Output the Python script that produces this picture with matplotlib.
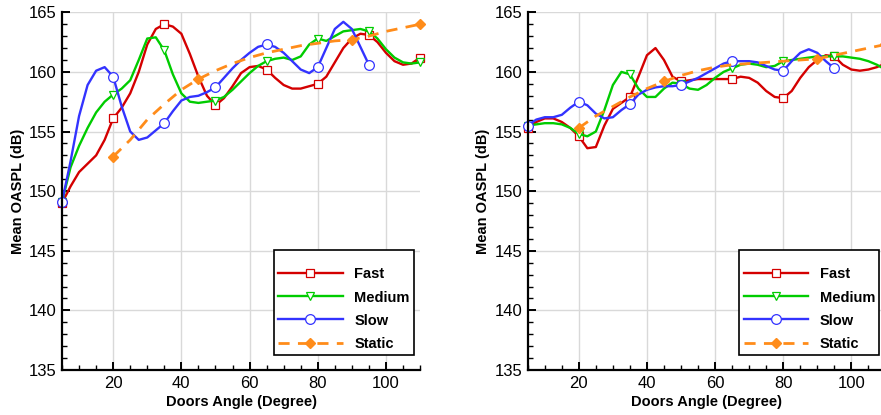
import numpy as np
import matplotlib
matplotlib.use("Agg")
import matplotlib.pyplot as plt
from matplotlib.ticker import MultipleLocator

plt.rcParams['font.family'] = ['Liberation Sans', 'DejaVu Sans']

# door angle grid (deg) for the moving-door runs, and for the static run
angle = [5, 7.5, 10, 12.5, 15, 17.5, 20, 22.5, 25, 27.5, 30, 32.5, 35, 37.5,
         40, 42.5, 45, 47.5, 50, 52.5, 55, 57.5, 60, 62.5, 65, 67.5, 70, 72.5,
         75, 77.5, 80, 82.5, 85, 87.5, 90, 92.5, 95, 97.5, 100, 102.5, 105,
         107.5, 110]
angle_static = [20, 25, 30, 35, 40, 45, 50, 55, 60, 65, 70, 75, 80, 85, 90,
                95, 100, 105, 110]
static_marks = [0, 5, 14, 18]

# left panel
fast_l = [149.0, 150.4, 151.6, 152.3, 153.0, 154.3, 156.1, 157.0, 158.2, 160.0,
          162.3, 163.6, 164.0, 163.8, 163.2, 161.5, 159.6, 158.0, 157.2, 157.8,
          158.8, 159.9, 160.4, 160.5, 160.2, 159.5, 158.9, 158.6, 158.6, 158.8,
          159.0, 159.6, 160.8, 162.0, 162.8, 163.2, 163.1, 162.5, 161.6, 160.9,
          160.6, 160.7, 161.2]
medium_l = [149.1, 152.0, 153.8, 155.3, 156.6, 157.5, 158.1, 158.6, 159.3, 161.0,
            162.8, 162.9, 161.8, 159.8, 158.2, 157.5, 157.4, 157.5, 157.6, 157.9,
            158.5, 159.2, 159.9, 160.5, 160.9, 161.1, 161.2, 161.0, 161.3, 162.3,
            162.8, 162.6, 163.0, 163.4, 163.5, 163.6, 163.4, 162.8, 161.9, 161.2,
            160.8, 160.7, 160.8]
slow_l = [149.1, 152.5, 156.3, 158.9, 160.1, 160.4, 159.6, 157.1, 155.0, 154.3,
          154.5, 155.1, 155.7, 156.7, 157.6, 157.9, 158.0, 158.3, 158.7, 159.5,
          160.3, 161.0, 161.6, 162.1, 162.3, 162.1, 161.6, 160.9, 160.2, 159.9,
          160.4, 162.0, 163.6, 164.2, 163.6, 162.1, 160.6]
static_l = [152.9, 154.3, 156.0, 157.3, 158.5, 159.4, 160.1, 160.7, 161.2, 161.6,
            161.9, 162.2, 162.4, 162.6, 162.7, 163.0, 163.4, 163.7, 164.0]

# right panel
fast_r = [155.3, 155.8, 156.1, 156.1, 155.8, 155.3, 154.6, 153.6, 153.7, 155.5,
          156.9, 157.4, 157.9, 159.6, 161.4, 162.0, 161.0, 159.6, 159.2, 159.3,
          159.4, 159.4, 159.4, 159.4, 159.4, 159.6, 159.5, 159.1, 158.4, 157.9,
          157.8, 158.4, 159.5, 160.4, 161.0, 161.4, 161.3, 160.6, 160.2, 160.1,
          160.2, 160.4, 160.7]
medium_r = [155.5, 155.6, 155.7, 155.7, 155.6, 155.3, 154.8, 154.6, 155.0, 156.8,
            158.9, 160.0, 159.8, 158.6, 157.9, 157.9, 158.6, 159.1, 159.0, 158.6,
            158.5, 158.9, 159.5, 160.0, 160.3, 160.6, 160.7, 160.6, 160.4, 160.5,
            160.9, 161.0, 161.1, 161.2, 161.3, 161.3, 161.3, 161.3, 161.2, 161.1,
            160.9, 160.6, 160.2]
slow_r = [155.5, 156.0, 156.2, 156.2, 156.4, 157.0, 157.5, 157.2, 156.5, 156.1,
          156.2, 156.8, 157.3, 158.1, 158.5, 158.7, 158.8, 158.8, 158.9, 159.2,
          159.5, 159.9, 160.3, 160.7, 160.9, 160.9, 160.9, 160.8, 160.5, 160.2,
          160.1, 160.9, 161.6, 161.9, 161.6, 160.9, 160.3]
static_r = [155.3, 156.3, 157.1, 157.9, 158.6, 159.2, 159.7, 160.1, 160.4, 160.6,
            160.7, 160.8, 160.9, 161.0, 161.1, 161.4, 161.7, 162.0, 162.3]

c_fast = '#d40000'
c_med = '#00cc00'
c_slow = '#3333ff'
c_stat = '#ff8c1a'

fig = plt.figure(figsize=(8.81, 4.15), dpi=100)
ax_l = fig.add_axes([0.0704, 0.1084, 0.4064, 0.862])
ax_r = fig.add_axes([0.599, 0.1084, 0.406, 0.862])


def draw(ax, fast, medium, slow, static):
    lw = 1.7
    ax.plot(angle[:len(fast)], fast, color=c_fast, lw=lw, marker='s', ms=5.2,
            mfc='white', mec=c_fast, mew=0.9, markevery=6, label='Fast',
            clip_on=False)
    ax.plot(angle[:len(medium)], medium, color=c_med, lw=lw, marker='v', ms=6.2,
            mfc='white', mec=c_med, mew=0.9, markevery=6, label='Medium',
            clip_on=False)
    ax.plot(angle[:len(slow)], slow, color=c_slow, lw=lw, marker='o', ms=7,
            mfc='white', mec=c_slow, mew=0.9, markevery=6, label='Slow',
            clip_on=False)
    ax.plot(angle_static, static, color=c_stat, lw=2.0, ls=(0, (4, 3)),
            marker='D', ms=5.2, mfc=c_stat, mec=c_stat,
            markevery=static_marks, label='Static', clip_on=False)

    ax.set_xlim(5, 110)
    ax.set_ylim(135, 165)
    ax.xaxis.set_major_locator(MultipleLocator(20))
    ax.xaxis.set_minor_locator(MultipleLocator(5))
    ax.yaxis.set_major_locator(MultipleLocator(5))
    ax.yaxis.set_minor_locator(MultipleLocator(1))
    ax.grid(True, which='major', color='#d9d9d9', lw=1.0)
    ax.set_axisbelow(True)
    for s in ['top', 'right']:
        ax.spines[s].set_visible(False)
    for s in ['left', 'bottom']:
        ax.spines[s].set_linewidth(1.6)
    ax.tick_params(which='major', direction='in', length=6, width=1.4,
                   labelsize=12, pad=4)
    ax.tick_params(which='minor', direction='in', length=3.6, width=1.0)
    ax.set_xlabel('Doors Angle (Degree)', fontsize=10.5, fontweight='bold',
                  labelpad=3)
    ax.set_ylabel('Mean OASPL (dB)', fontsize=10.5, fontweight='bold',
                  labelpad=3)
    leg = ax.legend(loc='lower right', bbox_to_anchor=(0.983, 0.042),
                    prop={'weight': 'bold', 'size': 10.5},
                    title=' ', title_fontsize=2,
                    handlelength=4.4, handletextpad=0.8, labelspacing=0.62,
                    borderpad=0.3, borderaxespad=0, fancybox=False,
                    framealpha=1)
    leg.get_frame().set_edgecolor('black')
    leg.get_frame().set_linewidth(1.2)
    leg.set_zorder(5)


draw(ax_l, fast_l, medium_l, slow_l, static_l)
draw(ax_r, fast_r, medium_r, slow_r, static_r)

fig.savefig('out.png', dpi=100)
